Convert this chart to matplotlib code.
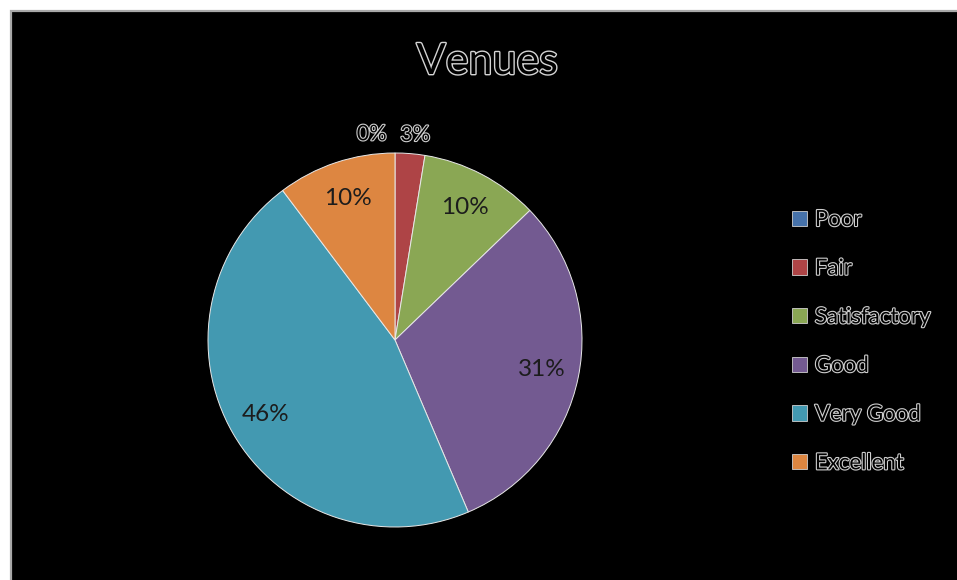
import matplotlib
matplotlib.use("Agg")
import matplotlib.pyplot as plt
import matplotlib.patheffects as pe
from matplotlib.patches import Rectangle
import numpy as np

categories = ["Poor", "Fair", "Satisfactory", "Good", "Very Good", "Excellent"]
counts = [0, 1, 4, 12, 18, 4]
colors = ["#4672AA", "#AE4446", "#8AA754", "#735A91", "#4399B1", "#DD8641"]
title = "Venues"

W, H = 957, 580
fig = plt.figure(figsize=(W / 100, H / 100), dpi=100, facecolor="white")
plt.rcParams["font.family"] = ["Lato", "DejaVu Sans"]

# black chart area with grey border (cut off at right/bottom)
fig.patches.append(Rectangle((10.5 / W, -0.05), 1.1, (H - 10.5) / H + 0.05,
                             transform=fig.transFigure, facecolor="black",
                             edgecolor="#a8a8a8", linewidth=1.6, zorder=-10))

outline = [pe.Stroke(linewidth=1.6, foreground="#cfcfcf"), pe.Normal()]

cx, cy, r = 395, 340, 187
lim = 1.1
half = r * lim
ax = fig.add_axes([(cx - half) / W, (H - cy - half) / H, 2 * half / W, 2 * half / H])
ax.set_facecolor("none")
ax.set_zorder(2)

wedges, _ = ax.pie(counts, colors=colors, startangle=90, counterclock=False,
                   wedgeprops=dict(edgecolor="#e8e8e8", linewidth=0.7))
ax.set_xlim(-lim, lim)
ax.set_ylim(-lim, lim)
ax.set_aspect("equal")
ax.axis("off")

total = sum(counts)
for i, (w, c) in enumerate(zip(wedges, counts)):
    pct = 100.0 * c / total
    lab = f"{pct:.0f}%"
    ang = np.deg2rad((w.theta1 + w.theta2) / 2)
    if pct < 5:
        rr = 1.10
        x, y = rr * np.cos(ang), rr * np.sin(ang)
        if c == 0:
            ax.text(x - 0.045, y, lab, ha="right", va="center", fontsize=15.5,
                    color="black", path_effects=outline)
        else:
            ax.text(x + 0.02, y, lab, ha="center", va="center", fontsize=15.5,
                    color="black", path_effects=outline)
    else:
        rr = 0.8
        ax.text(rr * np.cos(ang), rr * np.sin(ang), lab, ha="center", va="center",
                fontsize=17.5, color="#1c1c1c")

fig.text(487 / W, 1 - 62 / H, title, ha="center", va="center", fontsize=31,
         color="black", path_effects=[pe.Stroke(linewidth=2.0, foreground="#d4d4d4"), pe.Normal()])

leg = fig.legend(wedges, categories, loc="upper left",
                 bbox_to_anchor=(792 / W, 1 - 210 / H), frameon=False,
                 fontsize=16, handlelength=0.68, handleheight=0.68,
                 handletextpad=0.35, labelspacing=1.29, borderpad=0, borderaxespad=0)
for t in leg.get_texts():
    t.set_color("black")
    t.set_path_effects(outline)
for h in leg.legend_handles:
    h.set_edgecolor("#d0d0d0")
    h.set_linewidth(0.6)

fig.savefig("out.png", dpi=100, facecolor="white")
